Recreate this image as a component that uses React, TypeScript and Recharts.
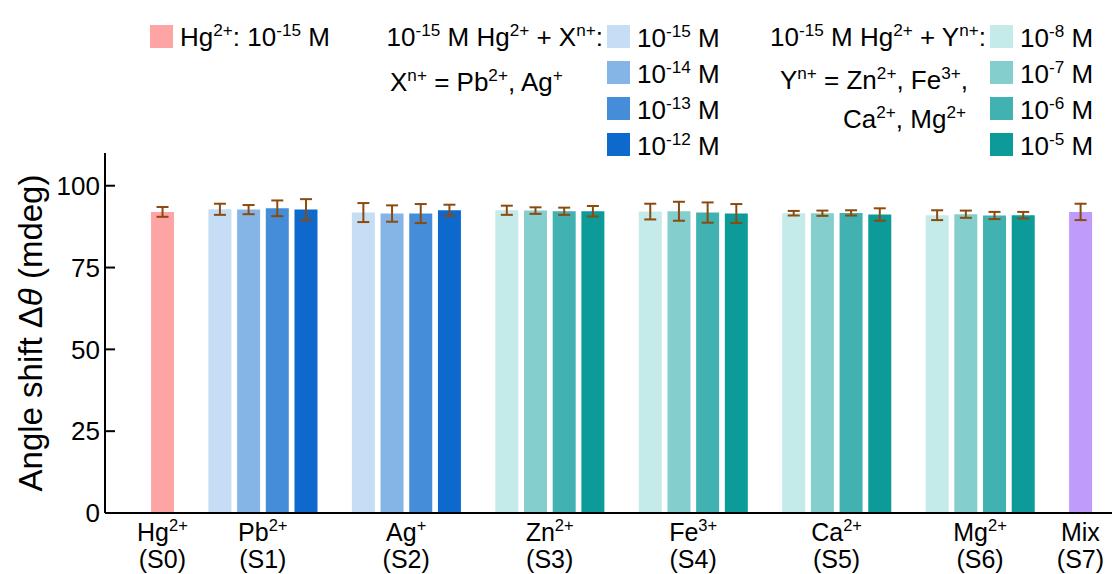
import { Bar, BarChart, Cell, ErrorBar, Label, XAxis, YAxis } from "recharts"

const FONT = "'Liberation Sans', Arial, sans-serif"

// x axis groups: ion, its charge (superscript) and sample id
const ionNames = ["Hg", "Pb", "Ag", "Zn", "Fe", "Ca", "Mg", "Mix"]
const ionCharges = ["2+", "2+", "+", "2+", "3+", "2+", "2+", ""]
const sampleIds = ["S0", "S1", "S2", "S3", "S4", "S5", "S6", "S7"]

// angle shift (mdeg) and error, one value per concentration
const hgShift = [92.0]
const hgErr = [1.5]
const pbShift = [92.8, 92.7, 93.1, 92.7]
const pbErr = [1.7, 1.4, 2.4, 3.2]
const agShift = [91.8, 91.5, 91.5, 92.5]
const agErr = [2.9, 2.5, 2.9, 1.7]
const znShift = [92.5, 92.4, 92.2, 92.2]
const znErr = [1.4, 1.0, 1.1, 1.6]
const feShift = [92.1, 92.2, 91.8, 91.5]
const feErr = [2.4, 2.9, 3.1, 2.9]
const caShift = [91.6, 91.6, 91.7, 91.2]
const caErr = [0.7, 0.8, 0.8, 1.9]
const mgShift = [91.0, 91.3, 90.9, 91.0]
const mgErr = [1.5, 1.1, 1.1, 1.0]
const mixShift = [92.0]
const mixErr = [2.5]

// legend concentrations (exponents of 10, in M)
const xConc = ["-15", "-14", "-13", "-12"]
const yConc = ["-8", "-7", "-6", "-5"]

const yTicks = [0, 25, 50, 75, 100]

const PINK = "#FFA4A4"
const PURPLE = "#BF9BFB"
const BLUES = ["#C5DDF5", "#85B5E7", "#458CD9", "#0D69CC"]
const TEALS = ["#C5EAEA", "#85CECE", "#42B1B1", "#0D9B9A"]
const ERR = "#8B4A0E"

const groupShifts = [hgShift, pbShift, agShift, znShift, feShift, caShift, mgShift, mixShift]
const groupErrs = [hgErr, pbErr, agErr, znErr, feErr, caErr, mgErr, mixErr]
const groupColors = [[PINK], BLUES, BLUES, TEALS, TEALS, TEALS, TEALS, [PURPLE]]

// one slot per bar, an empty slot between groups
const rows: { pos: number; shift: number; err: number; fill: string }[] = []
const groupCenters: number[] = []
let slot = 0
groupShifts.forEach((vals, g) => {
  groupCenters.push(slot + (vals.length - 1) / 2)
  vals.forEach((v, i) => {
    rows.push({ pos: slot, shift: v, err: groupErrs[g][i], fill: groupColors[g][i] })
    slot++
  })
  slot++
})

type Part = [string, boolean?]

function RichText({ x, y, parts, anchor = "start", size = 26 }: { x: number; y: number; parts: Part[]; anchor?: string; size?: number }) {
  const rise = size * 0.4
  let raised = false
  return (
    <text x={x} y={y} textAnchor={anchor} fontSize={size} fontFamily={FONT} fill="#000" style={{ whiteSpace: "pre" }}>
      {parts.map(([s, sup], i) => {
        const up = !!sup
        const dy = up && !raised ? -rise : !up && raised ? rise : 0
        raised = up
        return (
          <tspan key={i} dy={dy} fontSize={up ? size * 0.66 : size}>
            {s}
          </tspan>
        )
      })}
    </text>
  )
}

function IonTick(props: any) {
  const { x, y, payload } = props
  const g = groupCenters.indexOf(payload.value)
  if (g < 0) return null
  const top: Part[] = [[ionNames[g]]]
  if (ionCharges[g]) top.push([ionCharges[g], true])
  return (
    <g>
      <RichText x={x} y={y + 28} anchor="middle" size={25} parts={top} />
      <RichText x={x} y={y + 55} anchor="middle" size={25} parts={[[`(${sampleIds[g]})`]]} />
    </g>
  )
}

function YTitle(props: any) {
  const vb = props.viewBox || { x: 0, y: 0, height: 0 }
  const cx = vb.x + 30
  const cy = vb.y + vb.height / 2
  return (
    <text
      x={cx}
      y={cy}
      transform={`rotate(-90 ${cx} ${cy})`}
      textAnchor="middle"
      dominantBaseline="central"
      fontSize={33}
      fontFamily={FONT}
      fill="#000"
    >
      Angle shift Δ<tspan fontStyle="italic">θ</tspan> (mdeg)
    </text>
  )
}

function ChartLegend() {
  return (
    <g>
      <rect x={150} y={25} width={23} height={23} fill={PINK} />
      <RichText x={180} y={46} parts={[["Hg"], ["2+", true], [": 10"], ["-15", true], [" M"]]} />

      <RichText x={603} y={46} anchor="end" parts={[["10"], ["-15", true], [" M Hg"], ["2+", true], [" + X"], ["n+", true], [":"]]} />
      <RichText x={390} y={91} parts={[["X"], ["n+", true], [" = Pb"], ["2+", true], [", Ag"], ["+", true]]} />
      {xConc.map((c, i) => (
        <g key={c}>
          <rect x={607} y={25 + 36 * i} width={23} height={23} fill={BLUES[i]} />
          <RichText x={637} y={47 + 36 * i} parts={[["10"], [c, true], [" M"]]} />
        </g>
      ))}

      <RichText x={986} y={46} anchor="end" parts={[["10"], ["-15", true], [" M Hg"], ["2+", true], [" + Y"], ["n+", true], [":"]]} />
      <RichText x={968} y={89} anchor="end" parts={[["Y"], ["n+", true], [" = Zn"], ["2+", true], [", Fe"], ["3+", true], [","]]} />
      <RichText x={966} y={128} anchor="end" parts={[["Ca"], ["2+", true], [", Mg"], ["2+", true]]} />
      {yConc.map((c, i) => (
        <g key={c}>
          <rect x={990} y={25 + 36 * i} width={23} height={23} fill={TEALS[i]} />
          <RichText x={1020} y={47 + 36 * i} parts={[["10"], [c, true], [" M"]]} />
        </g>
      ))}
    </g>
  )
}

export default function App() {
  return (
    <div style={{ position: "absolute", left: 0, top: 0, width: 1112, height: 574, background: "#fff" }}>
      <BarChart width={1112} height={574} data={rows} margin={{ top: 153, right: 0, bottom: 0, left: 0 }}>
        <XAxis
          type="number"
          dataKey="pos"
          domain={[-2, 33.1]}
          allowDataOverflow
          ticks={groupCenters}
          interval={0}
          height={61}
          tickSize={0}
          tickMargin={0}
          tickLine={false}
          axisLine={{ stroke: "#000", strokeWidth: 2 }}
          tick={<IonTick />}
        />
        <YAxis
          domain={[0, 110]}
          ticks={yTicks}
          width={105}
          tickSize={-10}
          tickMargin={15}
          axisLine={{ stroke: "#000", strokeWidth: 2 }}
          tickLine={{ stroke: "#000", strokeWidth: 2 }}
          tick={{ fontSize: 26, fill: "#000", fontFamily: FONT }}
        >
          <Label content={<YTitle />} />
        </YAxis>
        <Bar dataKey="shift" barSize={23} isAnimationActive={false}>
          {rows.map((r, i) => (
            <Cell key={i} fill={r.fill} />
          ))}
          <ErrorBar dataKey="err" direction="y" width={6} stroke={ERR} strokeWidth={2} isAnimationActive={false} />
        </Bar>
        <ChartLegend />
      </BarChart>
    </div>
  )
}
